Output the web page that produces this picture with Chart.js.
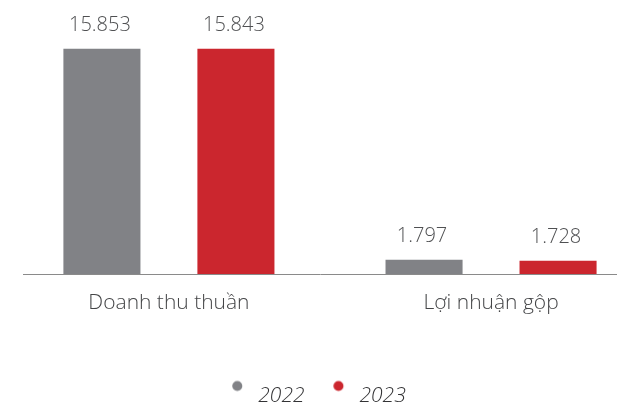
<!DOCTYPE html>
<html>
<head>
<meta charset="utf-8">
<script src="https://cdn.jsdelivr.net/npm/chart.js@4.4.1/dist/chart.umd.min.js"></script>
<style>
  html, body { margin: 0; padding: 0; background: #fff; overflow: hidden; }
</style>
</head>
<body>
<canvas id="chart" width="617" height="403"></canvas>
<script>
const categories = ['Doanh thu thuần', 'Lợi nhuận gộp'];
const years = ['2022', '2023'];
const values2022 = [15853, 1797];
const values2023 = [15843, 1728];
const barColors = ['#818286', '#cb262e'];

// 15853 -> "15.853"
function fmt(v){ return String(v).replace(/\B(?=(\d{3})+(?!\d))/g, '.'); }

// legend marker: small dot, sitting a bit above the text middle
function dot(color){
  const c = document.createElement('canvas');
  c.width = 30; c.height = 34;
  const g = c.getContext('2d');
  g.fillStyle = color;
  g.beginPath();
  g.arc(11.25, 6.5, 5, 0, Math.PI * 2);
  g.fill();
  return c;
}
const dots = barColors.map(dot);

const valueLabels = {
  id: 'valueLabels',
  afterDatasetsDraw(chart){
    const ctx = chart.ctx;
    ctx.save();
    ctx.font = '300 20px "Open Sans"';
    ctx.fillStyle = '#4f5052';
    ctx.textAlign = 'center';
    ctx.textBaseline = 'alphabetic';
    chart.data.datasets.forEach((ds, di) => {
      chart.getDatasetMeta(di).data.forEach((bar, i) => {
        ctx.fillText(fmt(ds.data[i].y), bar.x - 2, bar.y - 18);
      });
    });
    ctx.restore();
  }
};

function draw(){
  const series = [values2022, values2023];
  new Chart(document.getElementById('chart'), {
    type: 'bar',
    data: {
      datasets: years.map((y, i) => ({
        label: y,
        data: categories.map((_, k) => ({ x: k, y: series[i][k] })),
        backgroundColor: barColors[i],
        borderWidth: 0,
        categoryPercentage: 0.832,
        barPercentage: 0.575
      }))
    },
    options: {
      responsive: false,
      animation: false,
      devicePixelRatio: 1,
      layout: { padding: { left: 23, right: 0, top: 39, bottom: -14 } },
      scales: {
        x: {
          type: 'linear',
          min: -0.453,
          max: 1.391,
          offset: false,
          afterBuildTicks: s => { s.ticks = categories.map((_, i) => ({ value: i })); },
          afterFit: s => { s.height = 81; },
          ticks: {
            callback: v => categories[v],
            color: '#444547',
            font: { family: 'Open Sans', size: 21, weight: '300' },
            padding: 8,
            autoSkip: false,
            maxRotation: 0
          },
          grid: { display: false },
          border: { display: true, color: '#8a8a8a', width: 1 }
        },
        y: { display: false, min: 850, max: 16500 }
      },
      plugins: {
        tooltip: { enabled: false },
        legend: {
          position: 'bottom',
          labels: {
            usePointStyle: true,
            pointStyleWidth: 13.5,
            padding: 31,
            color: '#333335',
            font: { family: 'Open Sans', size: 21, style: 'italic', weight: '300' },
            generateLabels: chart => Chart.defaults.plugins.legend.labels.generateLabels(chart)
              .map((item, i) => Object.assign(item, { pointStyle: dots[i] }))
          }
        }
      }
    },
    plugins: [valueLabels]
  });
}

Promise.all([
  document.fonts.load('300 20px "Open Sans"'),
  document.fonts.load('italic 300 21px "Open Sans"')
]).then(draw, draw);
</script>
</body>
</html>
